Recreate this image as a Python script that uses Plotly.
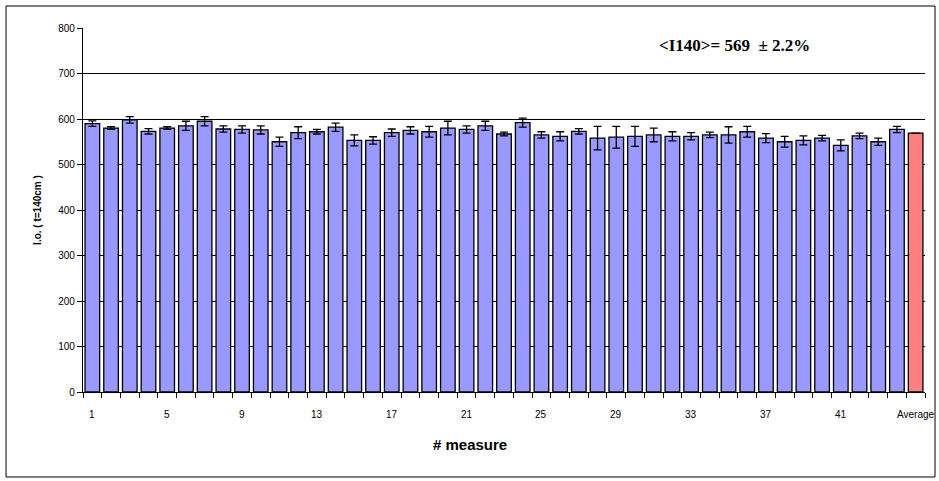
import plotly.graph_objects as go

categories = [str(i) for i in range(1, 45)] + ["Average"]
values = [590, 580, 598, 573, 580, 585, 595, 578, 577, 576,
          550, 570, 572, 582, 553, 553, 570, 575, 572, 580,
          577, 585, 567, 592, 565, 562, 573, 558, 560, 562,
          565, 562, 562, 565, 565, 572, 558, 550, 553, 558,
          542, 563, 550, 577, 569]
errors = [6, 3, 7, 6, 3, 10, 10, 7, 8, 9,
          10, 13, 5, 9, 12, 8, 8, 8, 12, 15,
          8, 10, 4, 10, 7, 10, 6, 26, 24, 22,
          15, 10, 8, 6, 18, 12, 10, 12, 10, 6,
          12, 6, 8, 7, 0]
tick_labels = ["1", "5", "9", "13", "17", "21", "25", "29", "33", "37", "41", "Average"]
y_ticks = [0, 100, 200, 300, 400, 500, 600, 700, 800]

xpos = list(range(1, len(categories) + 1))
tickpos = [xpos[categories.index(t)] for t in tick_labels]
boundaries = [p - 0.5 for p in xpos] + [xpos[-1] + 0.5]
colors = ["#9999FF"] * (len(categories) - 1) + ["#FF8080"]
xrange = [boundaries[0], boundaries[-1]]

fig = go.Figure()
fig.add_trace(go.Bar(
    x=xpos, y=values,
    marker=dict(color=colors, line=dict(color="#000000", width=1.3)),
    error_y=dict(type="data", array=errors, visible=True, color="#000000",
                 thickness=1.3, width=4),
    width=0.78,
))

label_annotations = [
    dict(text=t, x=p, xref="x", y=-0.062, yref="paper", xanchor="center", yanchor="middle",
         showarrow=False, font=dict(size=10, family="Arial, Liberation Sans", color="#000000"))
    for t, p in zip(tick_labels, tickpos)
]

fig.update_layout(
    width=939, height=481,
    margin=dict(l=83, r=14, t=28, b=89, autoexpand=False),
    paper_bgcolor="white", plot_bgcolor="white",
    showlegend=False,
    font=dict(family="Arial, Liberation Sans", color="#000000"),
    xaxis=dict(
        automargin=False,
        range=xrange,
        tickmode="array", tickvals=boundaries, ticktext=[""] * len(boundaries),
        ticks="outside", ticklen=5, tickwidth=1.2, tickcolor="#000000",
        showgrid=False, zeroline=False,
        showline=True, linecolor="#000000", linewidth=1.3,
    ),
    yaxis=dict(
        automargin=False,
        range=[0, 800], tickmode="array", tickvals=y_ticks,
        ticks="outside", ticklen=5, tickcolor="#000000", tickwidth=1,
        showgrid=True, gridcolor="#000000", gridwidth=1,
        zeroline=False, showline=True, linecolor="#000000", linewidth=1.3,
        tickfont=dict(size=10, family="Arial, Liberation Sans"),
        title=dict(text="<b>I.o. ( t=140cm )</b>", font=dict(size=10, family="Arial, Liberation Sans"),
                   standoff=14),
    ),
    shapes=[dict(type="rect", xref="paper", yref="paper",
                 x0=-0.0914, x1=1.0119, y0=-0.2335, y1=1.0604,
                 line=dict(color="#000000", width=1), layer="below")],
    annotations=label_annotations + [
        dict(text="<b>&lt;I140&gt;= 569  ± 2.2%</b>", xref="paper", yref="y",
             x=0.774, y=762, xanchor="center", yanchor="middle", showarrow=False,
             font=dict(size=17, family="Liberation Serif, Times New Roman", color="#000000")),
        dict(text="<b># measure</b>", xref="paper", yref="paper",
             x=0.46, y=-0.145, xanchor="center", yanchor="middle", showarrow=False,
             font=dict(size=15, family="Arial, Liberation Sans", color="#000000")),
    ],
)

fig.write_html("out.html", config={"displayModeBar": False},
               post_script="document.body.style.margin='0px';")
